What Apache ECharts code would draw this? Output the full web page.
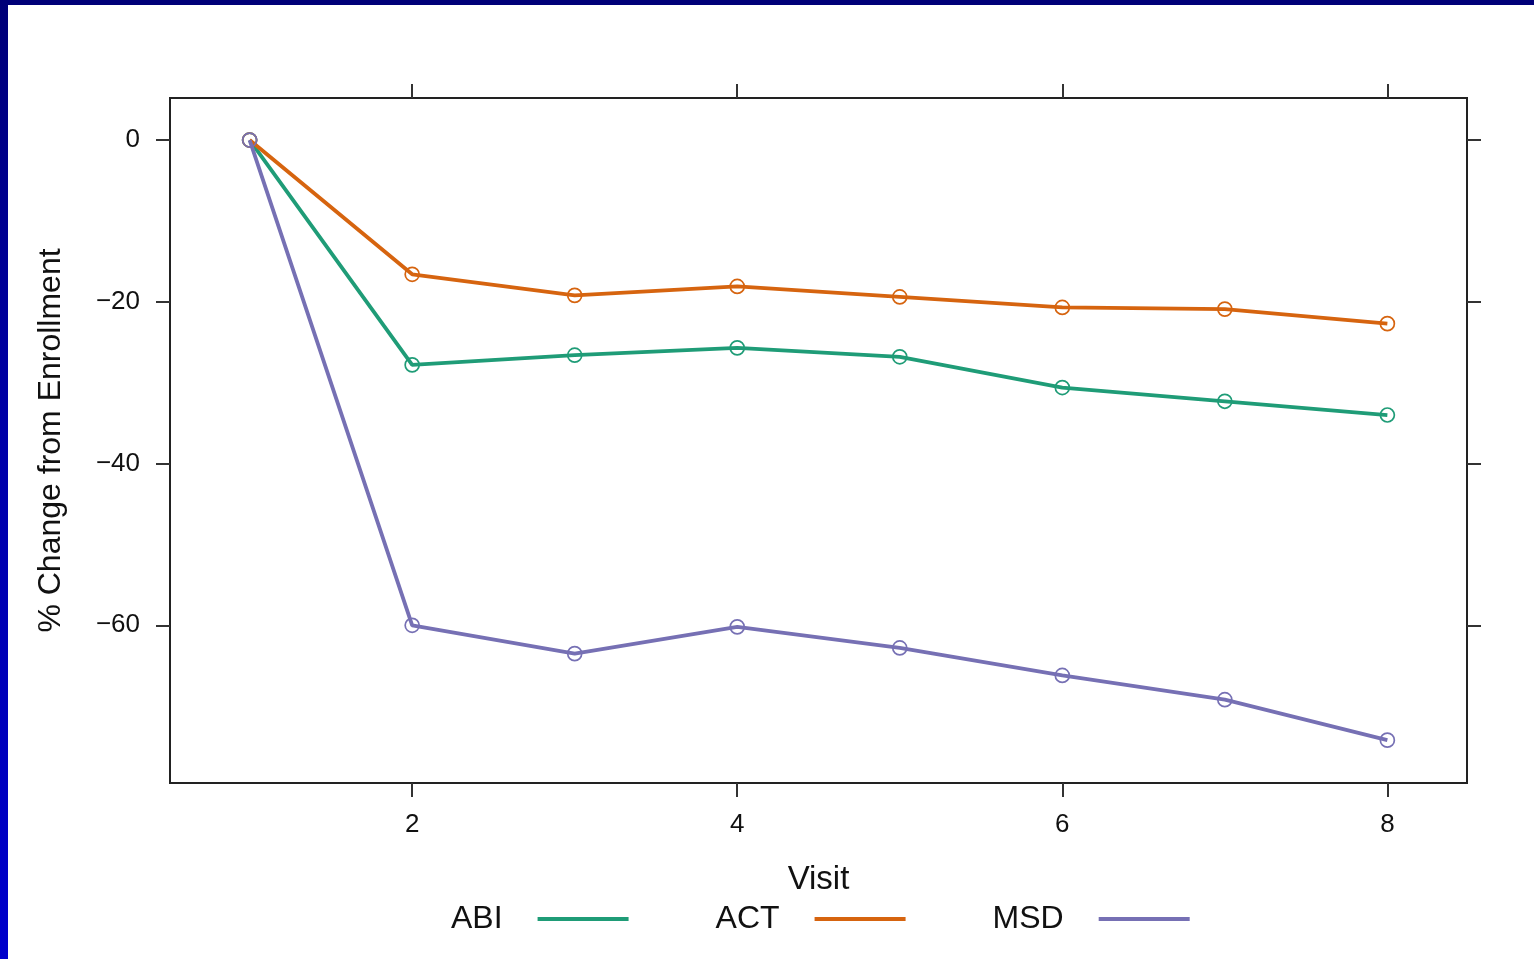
<!DOCTYPE html>
<html>
<head>
<meta charset="utf-8">
<script src="https://cdn.jsdelivr.net/npm/echarts@6/dist/echarts.min.js"></script>
<style>
html,body{margin:0;padding:0;background:#fff;width:1534px;height:959px;overflow:hidden;}
#chart{position:absolute;left:0;top:0;width:1534px;height:959px;}
#topbar{position:absolute;left:0;top:0;width:1534px;height:5px;background:#000078;z-index:5;}
#leftbar{position:absolute;left:0;top:0;width:8px;height:959px;background:linear-gradient(#000078,#0000a8 45%,#0000cc);z-index:5;}
</style>
</head>
<body>
<div id="chart"></div>
<div id="topbar"></div>
<div id="leftbar"></div>
<script>
// ---- data ----
const visits = [1, 2, 3, 4, 5, 6, 7, 8];
const seriesNames = ['ABI', 'ACT', 'MSD'];
const abiValues = [0, -27.8, -26.6, -25.7, -26.8, -30.6, -32.3, -34.0];
const actValues = [0, -16.6, -19.2, -18.1, -19.4, -20.7, -20.9, -22.7];
const msdValues = [0, -60.0, -63.5, -60.2, -62.8, -66.2, -69.2, -74.2];
const xTicks = [2, 4, 6, 8];
const yTicks = [0, -20, -40, -60];
const xTitle = 'Visit';
const yTitle = '% Change from Enrollment';

const colors = ['#1f9c77', '#d6640f', '#7670b4'];
const valuesList = [abiValues, actValues, msdValues];

const font = "'Liberation Sans', Arial, Helvetica, sans-serif";
const minus = v => String(v).replace('-', '\u2212');

const chart = echarts.init(document.getElementById('chart'), null, {renderer: 'canvas'});

const tickStyle = {show: true, inside: false, length: 14, lineStyle: {color: '#333', width: 2}};
const noLine = {show: false, onZero: false};

const option = {
  backgroundColor: '#fff',
  animation: false,
  grid: {left: 170, top: 98, width: 1297, height: 685, show: true, borderColor: '#222', borderWidth: 2, backgroundColor: 'transparent'},
  legend: {
    left: 446, top: 898,
    align: 'right',
    icon: 'rect',
    itemWidth: 91, itemHeight: 4,
    itemGap: 87,
    textStyle: {fontFamily: font, fontSize: 32, color: '#111', padding: [0, 30, 0, 0]},
    data: seriesNames.map((n, i) => ({name: n, itemStyle: {color: colors[i], borderWidth: 0}}))
  },
  xAxis: [
    {
      type: 'value', position: 'bottom', min: 0.51, max: 8.49,
      name: xTitle, nameLocation: 'middle', nameGap: 80,
      nameTextStyle: {fontFamily: font, fontSize: 33, color: '#111'},
      axisLine: noLine, splitLine: {show: false},
      axisTick: Object.assign({customValues: xTicks}, tickStyle),
      axisLabel: {customValues: xTicks, margin: 29, fontFamily: font, fontSize: 26, color: '#111'}
    },
    {
      type: 'value', position: 'top', min: 0.51, max: 8.49,
      axisLine: noLine, splitLine: {show: false},
      axisTick: Object.assign({customValues: xTicks}, tickStyle),
      axisLabel: {show: false}
    }
  ],
  yAxis: [
    {
      type: 'value', position: 'left', min: -79.5, max: 5.2,
      name: yTitle, nameLocation: 'middle', nameGap: 103,
      nameTextStyle: {fontFamily: font, fontSize: 32, color: '#111'},
      axisLine: noLine, splitLine: {show: false},
      axisTick: Object.assign({customValues: yTicks}, tickStyle),
      axisLabel: {customValues: yTicks, margin: 30, fontFamily: font, fontSize: 26, color: '#111', formatter: minus}
    },
    {
      type: 'value', position: 'right', min: -79.5, max: 5.2,
      axisLine: noLine, splitLine: {show: false},
      axisTick: Object.assign({customValues: yTicks}, tickStyle),
      axisLabel: {show: false}
    }
  ],
  series: seriesNames.map((n, i) => ({
    name: n,
    type: 'line',
    data: visits.map((v, k) => [v, valuesList[i][k]]),
    symbol: 'circle',
    symbolSize: 14,
    lineStyle: {color: colors[i], width: 3.8},
    itemStyle: {color: 'rgba(255,255,255,0)', borderColor: colors[i], borderWidth: 1.7},
    z: 2 + i
  }))
};
chart.setOption(option);
</script>
</body>
</html>
